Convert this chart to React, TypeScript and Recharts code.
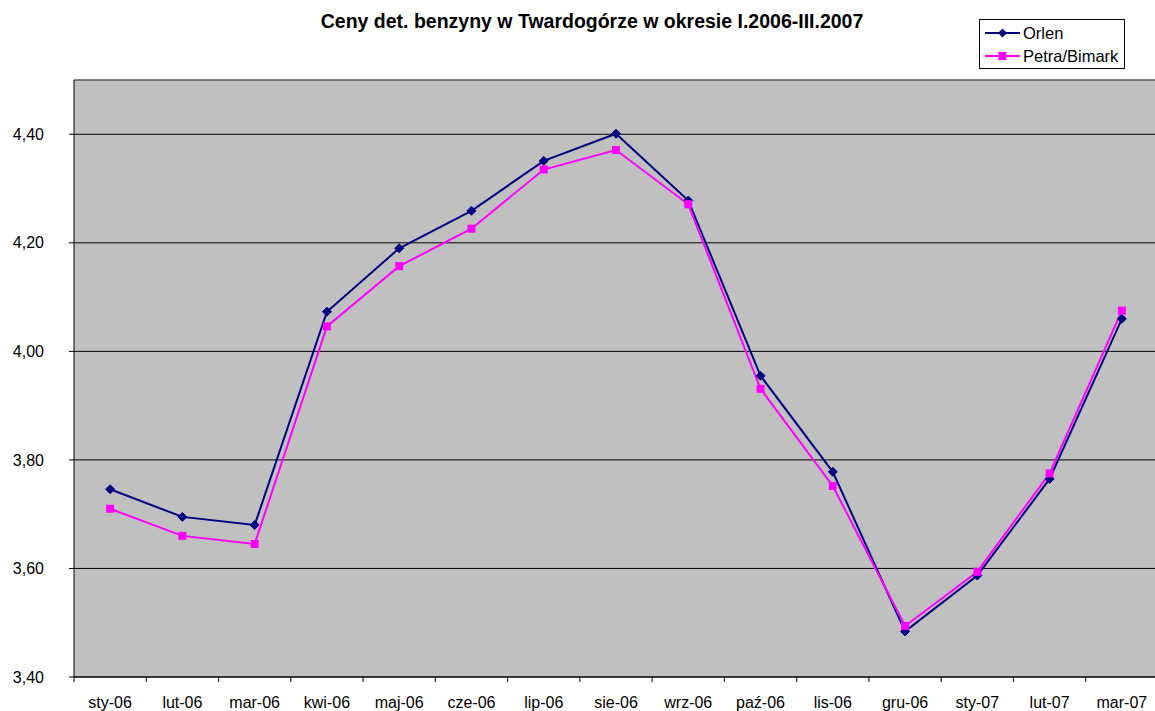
import React from 'react';
import { LineChart, Line, XAxis, YAxis, CartesianGrid, Legend, ReferenceLine } from 'recharts';

const months = ['sty-06', 'lut-06', 'mar-06', 'kwi-06', 'maj-06', 'cze-06', 'lip-06', 'sie-06', 'wrz-06', 'paź-06', 'lis-06', 'gru-06', 'sty-07', 'lut-07', 'mar-07'];
const orlen = [3.746, 3.695, 3.680, 4.073, 4.190, 4.259, 4.351, 4.401, 4.278, 3.955, 3.778, 3.484, 3.587, 3.765, 4.060];
const petra = [3.710, 3.660, 3.645, 4.046, 4.157, 4.226, 4.335, 4.371, 4.271, 3.931, 3.752, 3.494, 3.594, 3.775, 4.075];
const yTicks = [3.4, 3.6, 3.8, 4.0, 4.2, 4.4];
const title = 'Ceny det. benzyny w Twardogórze w okresie I.2006-III.2007';

const data = months.map((m, i) => ({ month: m, Orlen: orlen[i], 'Petra/Bimark': petra[i] }));

const FONT = 'Arial, "Liberation Sans", sans-serif';
const NAVY = '#000080';
const PINK = '#FF00FF';

const Diamond = (props: any) => {
  const { cx, cy } = props;
  if (cx == null || cy == null) return null;
  const r = 4.5;
  return <polygon points={`${cx},${cy - r} ${cx + r},${cy} ${cx},${cy + r} ${cx - r},${cy}`} fill={NAVY} stroke={NAVY} strokeWidth={1} />;
};

const Square = (props: any) => {
  const { cx, cy } = props;
  if (cx == null || cy == null) return null;
  return <rect x={cx - 4} y={cy - 4} width={8} height={8} fill={PINK} />;
};

const XTick = (props: any) => {
  const { x, y, payload, index } = props;
  const off = payload.offset || 0;
  const axisY = y - 5 - 15;
  return (
    <g>
      <line x1={x - off} y1={axisY} x2={x - off} y2={axisY + 5} stroke="#000" />
      {index === months.length - 1 && <line x1={x + off} y1={axisY} x2={x + off} y2={axisY + 5} stroke="#000" />}
      <text x={x} y={y} dy="0.71em" textAnchor="middle" fill="#000" fontSize={16} fontFamily={FONT}>{payload.value}</text>
    </g>
  );
};

const LegendBox = () => (
  <div style={{ width: 144, height: 48, border: '1px solid #000', background: '#fff', fontFamily: FONT, fontSize: 16.5, color: '#000', boxSizing: 'content-box' }}>
    {[{ name: 'Orlen', c: NAVY, shape: 'd' }, { name: 'Petra/Bimark', c: PINK, shape: 's' }].map((it, i) => (
      <div key={it.name} style={{ display: 'flex', alignItems: 'center', height: 24, marginTop: i === 0 ? 1 : -1 }}>
        <svg width={39} height={16} style={{ marginLeft: 4 }}>
          <line x1={1} y1={8} x2={36} y2={8} stroke={it.c} strokeWidth={2} />
          {it.shape === 'd'
            ? <polygon points="18.5,3.5 23,8 18.5,12.5 14,8" fill={it.c} />
            : <rect x={14.5} y={4} width={8} height={8} fill={it.c} />}
        </svg>
        <span style={{ lineHeight: '16px' }}>{it.name}</span>
      </div>
    ))}
  </div>
);

export default function App() {
  return (
    <div style={{ position: 'absolute', left: 0, top: 0, width: 1155, height: 711, background: '#fff', overflow: 'hidden' }}>
      <LineChart width={1158} height={711} data={data} margin={{ top: 80, right: 0, bottom: 0, left: 0 }}>
        <text x={592} y={28} textAnchor="middle" fontFamily={FONT} fontSize={19.5} fontWeight="bold" fill="#000">{title}</text>
        <CartesianGrid horizontal={true} vertical={false} stroke="#000" strokeOpacity={1} fill="#C0C0C0" fillOpacity={1} />
        <XAxis dataKey="month" scale="band" height={34} axisLine={{ stroke: '#000' }} tickLine={false} tickSize={5} tickMargin={15} tick={<XTick />} interval={0} />
        <YAxis width={74} domain={[3.4, 4.5]} ticks={yTicks} allowDataOverflow axisLine={{ stroke: '#000' }} tickLine={{ stroke: '#000' }} tickSize={5} tickMargin={25}
          tick={{ fill: '#000', fontSize: 16, fontFamily: FONT }} tickFormatter={(v: number) => v.toFixed(2).replace('.', ',')} />
        <ReferenceLine y={4.5} stroke="#808080" strokeWidth={1} />
        <Line type="linear" dataKey="Orlen" stroke={NAVY} strokeWidth={2} dot={<Diamond />} activeDot={false} isAnimationActive={false} />
        <Line type="linear" dataKey="Petra/Bimark" stroke={PINK} strokeWidth={2} dot={<Square />} activeDot={false} isAnimationActive={false} />
        <Legend layout="vertical" align="center" verticalAlign="middle" content={<LegendBox />} wrapperStyle={{ left: 979, top: 19, width: 146, height: 50 }} />
      </LineChart>
    </div>
  );
}
